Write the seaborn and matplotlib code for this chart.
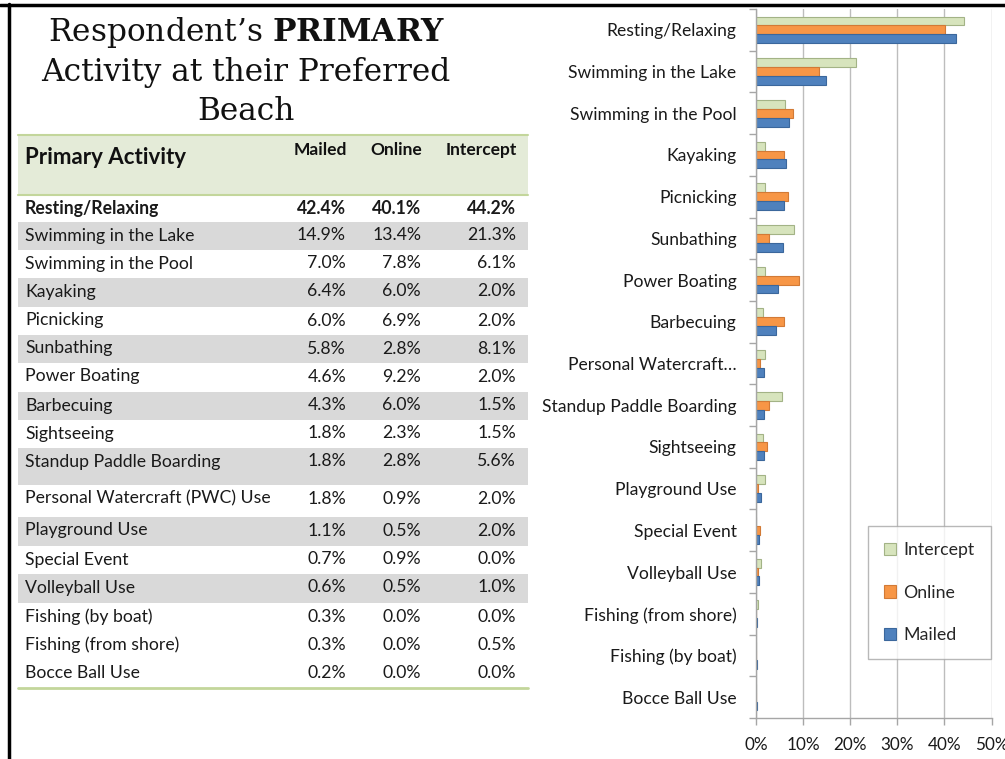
import pandas as pd
import seaborn as sns
import matplotlib.pyplot as plt
from matplotlib.patches import Rectangle

# table rows (table order)
activities = ['Resting/Relaxing', 'Swimming in the Lake', 'Swimming in the Pool',
              'Kayaking', 'Picnicking', 'Sunbathing', 'Power Boating', 'Barbecuing',
              'Sightseeing', 'Standup Paddle Boarding', 'Personal Watercraft (PWC) Use',
              'Playground Use', 'Special Event', 'Volleyball Use', 'Fishing (by boat)',
              'Fishing (from shore)', 'Bocce Ball Use']
mailed = [42.4, 14.9, 7.0, 6.4, 6.0, 5.8, 4.6, 4.3, 1.8, 1.8, 1.8, 1.1, 0.7, 0.6, 0.3, 0.3, 0.2]
online = [40.1, 13.4, 7.8, 6.0, 6.9, 2.8, 9.2, 6.0, 2.3, 2.8, 0.9, 0.5, 0.9, 0.5, 0.0, 0.0, 0.0]
intercept = [44.2, 21.3, 6.1, 2.0, 2.0, 8.1, 2.0, 1.5, 1.5, 5.6, 2.0, 2.0, 0.0, 1.0, 0.0, 0.5, 0.0]

# order of the bar chart (top to bottom)
chart_order = ['Resting/Relaxing', 'Swimming in the Lake', 'Swimming in the Pool',
               'Kayaking', 'Picnicking', 'Sunbathing', 'Power Boating', 'Barbecuing',
               'Personal Watercraft (PWC) Use', 'Standup Paddle Boarding', 'Sightseeing',
               'Playground Use', 'Special Event', 'Volleyball Use', 'Fishing (from shore)',
               'Fishing (by boat)', 'Bocce Ball Use']
sources = ['Intercept', 'Online', 'Mailed']
x_ticks = [0, 10, 20, 30, 40, 50]

colors = {'Intercept': '#d7e4bd', 'Online': '#f79646', 'Mailed': '#4f81bd'}
edges = {'Intercept': '#a3b386', 'Online': '#d27a36', 'Mailed': '#3b679c'}

sns.set_style('white')
plt.rcParams['font.family'] = ['Lato', 'DejaVu Sans']
plt.rcParams['mathtext.fontset'] = 'dejavuserif'

fig = plt.figure(figsize=(10.05, 7.59), dpi=100)

# background axes in pixel coordinates for the title / table / frame
bg = fig.add_axes([0, 0, 1, 1])
bg.set_xlim(0, 1005)
bg.set_ylim(759, 0)
bg.axis('off')

# frame lines
bg.plot([0, 1005], [5, 5], color='black', lw=2.5)
bg.plot([8.5, 8.5], [4, 759], color='black', lw=2.5)

# title
title_kw = dict(ha='center', va='center', fontsize=22.5, family='DejaVu Serif', color='#111111')
bg.text(247, 32, "Respondent\u2019s $\\mathbf{PRIMARY}$", **title_kw)
bg.text(246, 72, "Activity at their Preferred", **title_kw)
bg.text(246, 112, "Beach", **title_kw)

# table
green = '#c3d69b'
tx0, tx1 = 18, 528
bg.add_patch(Rectangle((tx0, 135), tx1 - tx0, 60, facecolor='#e4ebd8', edgecolor='none'))
bg.plot([tx0, tx1], [135, 135], color=green, lw=1.5)
bg.plot([tx0, tx1], [195, 195], color=green, lw=1.5)
bg.text(25, 157, 'Primary Activity', fontsize=16, fontweight='bold', va='center', color='#111111')
col_x = [346, 421, 516]
for cx, name in zip(col_x, ['Mailed', 'Online', 'Intercept']):
    bg.text(cx + 1, 150, name, fontsize=12.5, fontweight='bold', ha='right', va='center', color='#111111')

row_h = [27, 28, 28, 29, 28, 28, 29, 28, 28, 37, 32, 29, 28, 29, 28, 29, 28]
y = 195
for i, name in enumerate(activities):
    h = row_h[i]
    if i % 2 == 1 and i < 14:
        bg.add_patch(Rectangle((tx0, y), tx1 - tx0, h, facecolor='#d9d9d9', edgecolor='none'))
    weight = 'bold' if i == 0 else 'normal'
    ty = y + 13.5
    bg.text(25, ty, name, fontsize=12.7, fontweight=weight, va='center', color='#1a1a1a')
    for cx, vals in zip(col_x, [mailed, online, intercept]):
        bg.text(cx, ty, f'{vals[i]:.1f}%', fontsize=12.7, fontweight=weight,
                ha='right', va='center', color='#1a1a1a')
    y += h
bg.plot([tx0, tx1], [y, y], color=green, lw=2)

# bar chart
df = pd.DataFrame({
    'activity': activities * 3,
    'source': ['Mailed'] * 17 + ['Online'] * 17 + ['Intercept'] * 17,
    'value': mailed + online + intercept,
})

ax = fig.add_axes([756 / 1005, 1 - 718 / 759, 235.5 / 1005, 709 / 759])
sns.barplot(data=df, y='activity', x='value', hue='source', order=chart_order,
            hue_order=sources, palette=colors, orient='h', width=0.64,
            saturation=1, ax=ax, legend=False)

for cont, src in zip(ax.containers, sources):
    for p in cont:
        p.set_edgecolor(edges[src])
        p.set_linewidth(0.8)

ax.set_xlim(0, 50)
ax.set_ylim(16.5, -0.5)
ax.set_xticks(x_ticks)
ax.set_xticklabels([f'{t}%' for t in x_ticks])
short = [a if len(a) < 26 else 'Personal Watercraft\u2026' for a in chart_order]
ax.set_yticks(range(len(chart_order)))
ax.set_yticklabels(short)
ax.set_yticks([k + 0.5 for k in range(-1, len(chart_order))], minor=True)
ax.tick_params(axis='y', which='major', length=0, pad=14, labelsize=12.6, labelcolor='#1a1a1a')
ax.tick_params(axis='y', which='minor', length=5, color='#a6a6a6', width=1, direction='out', left=True)
ax.tick_params(axis='x', length=5, color='#a6a6a6', width=1, direction='out', bottom=True,
               pad=9, labelsize=12.3, labelcolor='#1a1a1a')
ax.set_xlabel('')
ax.set_ylabel('')
ax.xaxis.grid(True, color='#bdbdbd', lw=1)
ax.set_axisbelow(True)
for s in ['top', 'right']:
    ax.spines[s].set_visible(False)
for s in ['left', 'bottom']:
    ax.spines[s].set_color('#a6a6a6')
    ax.spines[s].set_linewidth(1)

handles = [Rectangle((0, 0), 1, 1, facecolor=colors[s], edgecolor=edges[s], lw=0.8) for s in sources]
leg = ax.legend(handles, sources, loc='upper left',
                bbox_to_anchor=(868 / 1005, 1 - 526 / 759), bbox_transform=fig.transFigure,
                fontsize=12.8, frameon=True, fancybox=False, handlelength=0.7, handleheight=0.7,
                handletextpad=0.4, labelspacing=1.5, borderpad=0.9, borderaxespad=0)
leg.get_frame().set_edgecolor('#a6a6a6')
leg.get_frame().set_linewidth(1)

plt.savefig('out.png', dpi=100)
